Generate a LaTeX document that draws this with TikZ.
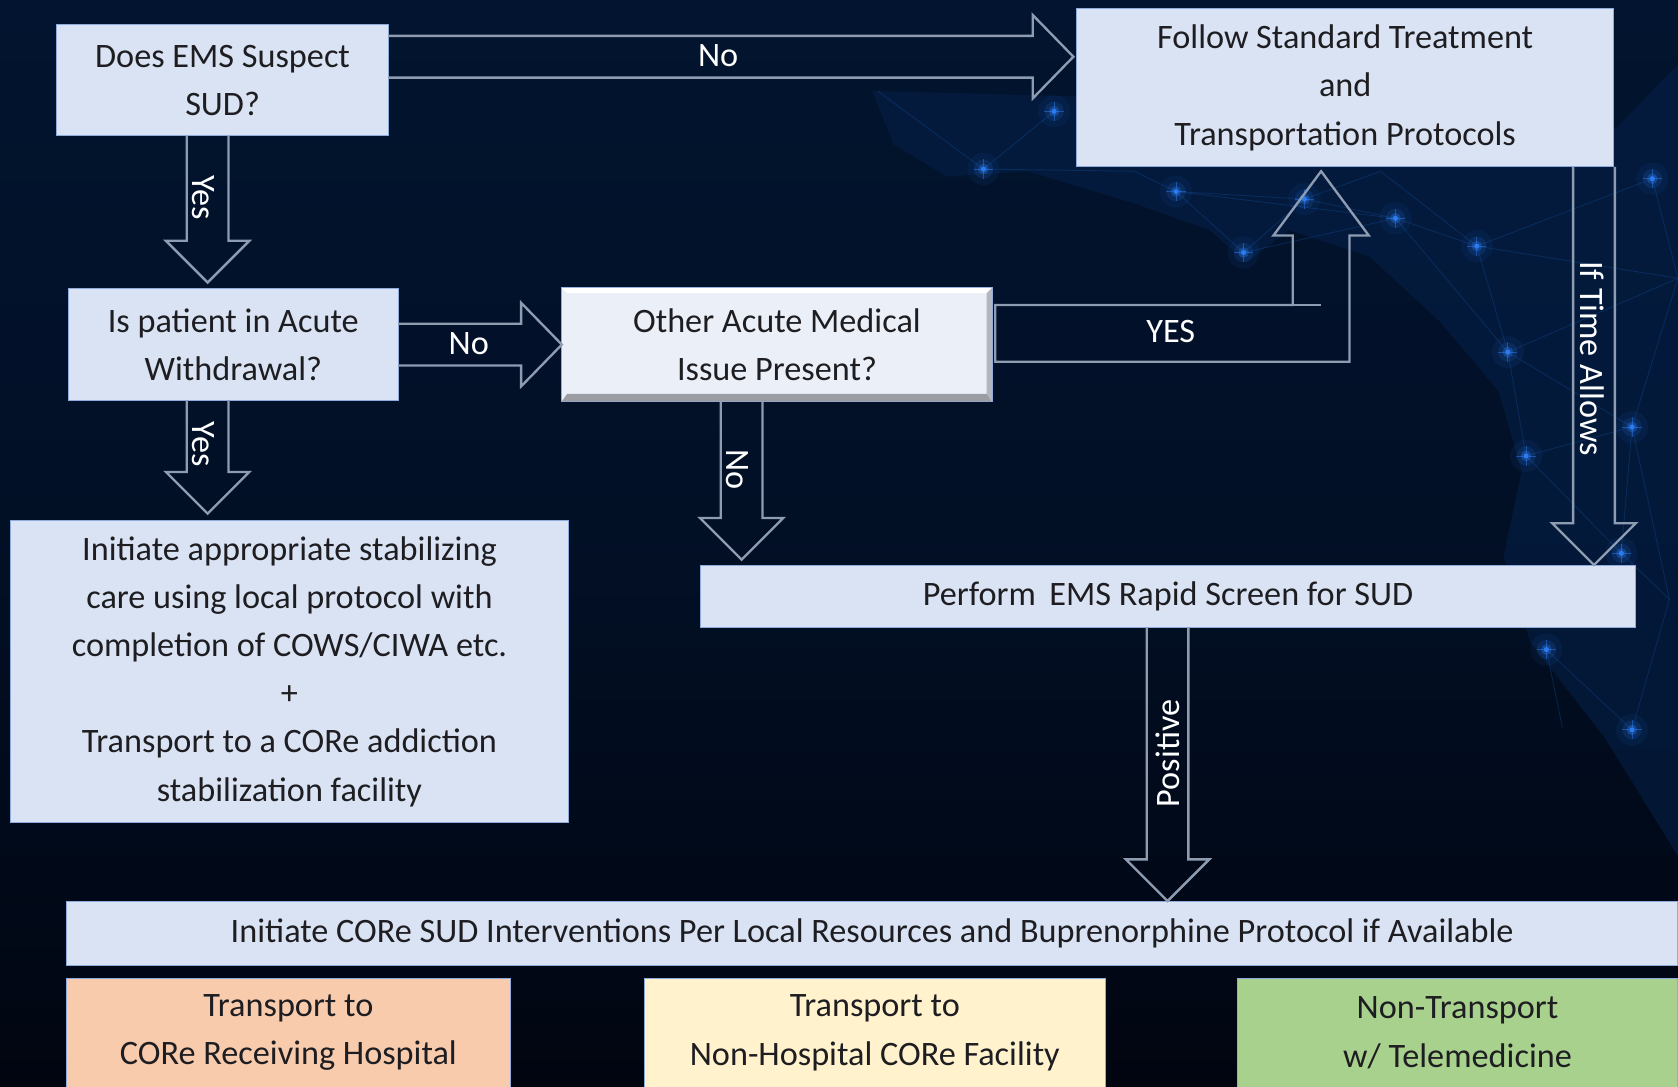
\documentclass[tikz,border=0pt]{standalone}
\usepackage{fontspec}
\setmainfont{Carlito}
\usetikzlibrary{calc}
\definecolor{bgtop}{HTML}{02142F}
\definecolor{bgbot}{HTML}{010510}
\definecolor{landc}{HTML}{05214A}
\definecolor{netc}{HTML}{114A94}
\definecolor{starc}{HTML}{2B7BEF}
\definecolor{boxc}{HTML}{DAE3F3}
\definecolor{boxedge}{HTML}{8FAADC}
\definecolor{orangec}{HTML}{F8CBAD}
\definecolor{yellowc}{HTML}{FFF2CC}
\definecolor{greenc}{HTML}{A9D18E}
\definecolor{arrowc}{HTML}{8E9CB2}
\definecolor{inkc}{HTML}{1E1E22}
\tikzset{
  flowbox/.style={draw=boxedge,line width=1pt,fill=boxc,text=inkc,align=center,inner sep=0pt,outer sep=0pt,
    font=\fontsize{32}{45}\selectfont},
  hollow/.style={draw=arrowc,line width=2.2pt,line join=miter},
  arrowlabel/.style={text=white,inner sep=0pt,font=\fontsize{32}{38}\selectfont},
  sidelabel/.style={arrowlabel},
}
\newcommand{\rightblock}[2]{%
  \draw[hollow] ($(#1)+(0,-19.5)$) -- ($(#2)+(-38,-19.5)$) -- ($(#2)+(-38,-39)$) -- (#2)
    -- ($(#2)+(-38,39)$) -- ($(#2)+(-38,19.5)$) -- ($(#1)+(0,19.5)$);}
\newcommand{\downblock}[2]{%
  \draw[hollow] ($(#1)+(-19.5,0)$) -- ($(#2)+(-19.5,-39)$) -- ($(#2)+(-39,-39)$) -- (#2)
    -- ($(#2)+(39,-39)$) -- ($(#2)+(19.5,-39)$) -- ($(#1)+(19.5,0)$);}
\begin{document}
\begin{tikzpicture}[x=1pt,y=-1pt]
\useasboundingbox (0,0) rectangle (1568,1015);
\clip (0,0) rectangle (1568,1015);
\shade[top color=bgtop,bottom color=bgbot,middle color=bgtop!70!bgbot] (0,0) rectangle (1568,1015);
% map silhouette
\fill[landc,opacity=.55] (815,85) -- (835,135) -- (885,165) -- (960,160) -- (1060,190) -- (1130,215) -- (1165,245)
  -- (1205,215) -- (1280,240) -- (1345,300) -- (1400,365) -- (1422,440) -- (1405,520) -- (1430,600) -- (1500,690)
  -- (1568,800) -- (1568,60) -- (1510,120) -- (1006,90) -- cycle;
% network
\foreach \n/\p in {a/{985,104},b/{919,158},c/{1099,179},d/{1162,236},e/{1304,204},f/{1380,230},g/{1409,329},
  h/{1544,167},i/{1525,399},j/{1426,426},k/{1515,517},l/{1219,186},m/{1445,607},o/{1525,682},
  p/{820,85},q/{1060,160},r/{1568,260},s/{1290,160},t/{1560,560},u/{1460,680}}
  {\coordinate (\n) at (\p);}
\foreach \u/\v in {p/b,a/b,b/q,c/d,c/q,c/l,c/e,l/e,e/f,e/d,f/g,f/s,f/h,f/r,g/j,g/i,g/e,j/i,j/k,i/k,i/r,i/t,h/r,m/o,m/u,o/t,k/t,l/s,d/l,g/r}
  {\draw[netc,opacity=.38,line width=.8pt] (\u) -- (\v);}
\foreach \n in {a,b,c,d,e,f,g,h,i,j,k,l,m,o}{
  \fill[starc,opacity=.07] (\n) circle (15);
  \fill[starc,opacity=.14] (\n) circle (9);
  \fill[starc,opacity=.35] (\n) circle (5);
  \fill[starc] (\n) circle (2.4);
  \draw[starc,opacity=.5,line width=.7pt] ($(\n)+(-9,0)$) -- ($(\n)+(9,0)$) ($(\n)+(0,-9)$) -- ($(\n)+(0,9)$);
}
% boxes
\node[flowbox,minimum width=310pt,minimum height=104pt] (susp) at (208,75) {Does EMS Suspect\\SUD?};
\node[flowbox,minimum width=502pt,minimum height=148pt] (std) at (1257,82) {Follow Standard Treatment\\and\\Transportation Protocols};
\node[flowbox,minimum width=308pt,minimum height=104pt] (acute) at (218,322) {Is patient in Acute\\Withdrawal?};
\node[flowbox,minimum width=402pt,minimum height=106pt,fill=boxc!55!white] (other) at (726,322) {Other Acute Medical\\Issue Present?};
\fill[white] (other.north west) -- (other.north east) -- ($(other.north east)+(-5,5)$) -- ($(other.north west)+(5,5)$) -- cycle;
\fill[gray!70!boxc] (other.south west) -- (other.south east) -- ($(other.south east)+(-5,-7)$) -- ($(other.south west)+(5,-7)$) -- cycle;
\fill[gray!45!boxc] (other.north east) -- (other.south east) -- ($(other.south east)+(-5,-7)$) -- ($(other.north east)+(-5,5)$) -- cycle;
\node[flowbox,minimum width=521pt,minimum height=283pt] (care) at (270.5,627.5) {Initiate appropriate stabilizing\\care using local protocol with\\completion of COWS/CIWA etc.\\+\\Transport to a CORe addiction\\stabilization facility};
\node[flowbox,minimum width=873pt,minimum height=58pt] (screen) at (1091.5,557) {Perform \,EMS Rapid Screen for SUD};
\node[flowbox,minimum width=1506pt,minimum height=60pt] (core) at (815,872) {Initiate CORe SUD Interventions Per Local Resources and Buprenorphine Protocol if Available};
\node[flowbox,fill=orangec,minimum width=415pt,minimum height=102pt] (hosp) at (269.5,965) {Transport to\\CORe Receiving Hospital};
\node[flowbox,fill=yellowc,minimum width=431pt,minimum height=102pt] (fac) at (817.5,965) {Transport to\\Non-Hospital CORe Facility};
\node[flowbox,fill=greenc,minimum width=412pt,minimum height=102pt] (tele) at (1362,965) {Non-Transport\\w/ Telemedicine};
% arrows
\coordinate (noAt) at (1003,53);
\rightblock{susp.east |- noAt}{noAt}
\coordinate (yesAt) at (194,264);
\downblock{susp.south -| yesAt}{yesAt}
\coordinate (noBt) at (525,322);
\rightblock{acute.east |- noBt}{noBt}
\coordinate (yesBt) at (194,480);
\downblock{acute.south -| yesBt}{yesBt}
\coordinate (noCt) at (693,523);
\downblock{other.south -| noCt}{noCt}
\coordinate (yesCt) at (1234.5,160);
\draw[hollow] ($(other.east)+(3,-37)$) -- (yesCt |- 0,285) ++(-26.5,0) ;
\draw[hollow] ($(other.east)+(3,-37)$) -- ($(yesCt)+(-26.5,125)$) -- ($(yesCt)+(-26.5,60)$) -- ($(yesCt)+(-44.5,60)$) -- (yesCt)
  -- ($(yesCt)+(44.5,60)$) -- ($(yesCt)+(26.5,60)$) -- ($(yesCt)+(26.5,178)$) -- ($(other.east)+(3,16)$) -- cycle;
\coordinate (timeT) at (1489.5,528);
\downblock{std.south -| timeT}{timeT}
\coordinate (posT) at (1091,842);
\downblock{screen.south -| posT}{posT}
% arrow labels
\node[arrowlabel] (lNoA) at (671,52) {No};
\node[arrowlabel,rotate=-90] (lYesA) at (190,185) {Yes};
\node[arrowlabel] (lNoB) at (438,321) {No};
\node[arrowlabel,rotate=-90] (lYesB) at (190,415) {Yes};
\node[arrowlabel,rotate=-90] (lNoC) at (689,439) {No};
\node[arrowlabel] (lYesC) at (1094,310) {YES};
\node[sidelabel,rotate=-90] (lTime) at (1488,335) {If Time Allows};
\node[sidelabel,rotate=90] (lPos) at (1091,704) {Positive};
\end{tikzpicture}
\end{document}
